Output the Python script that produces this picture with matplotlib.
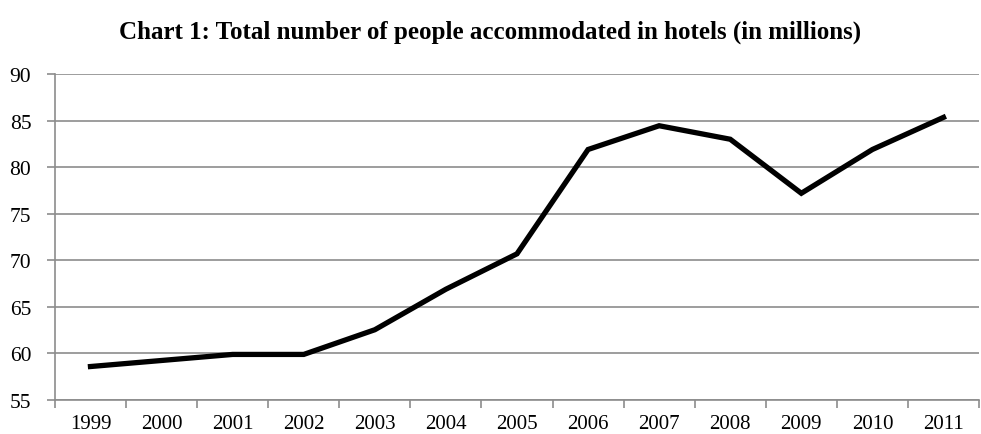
import numpy as np
import matplotlib.pyplot as plt

years = ['1999', '2000', '2001', '2002', '2003', '2004', '2005',
         '2006', '2007', '2008', '2009', '2010', '2011']
people = [58.6, 59.25, 59.9, 59.9, 62.55, 66.9, 70.7,
          81.9, 84.45, 83.0, 77.2, 81.9, 85.35]
y_ticks = [55, 60, 65, 70, 75, 80, 85, 90]

plt.rcParams['font.family'] = ['Liberation Serif', 'DejaVu Serif']

fig = plt.figure(figsize=(9.81, 4.35), dpi=100)
ax = fig.add_axes([0.056, 0.078, 0.942, 0.7495])

grid_c = '#8c8c8c'
x = np.arange(len(years))
ax.plot(x, people, color='black', linewidth=3.8, solid_joinstyle='miter', zorder=3)

ax.set_xlim(-0.5, len(years) - 0.5)
ax.set_ylim(55, 90)
ax.set_yticks(y_ticks)
ax.yaxis.grid(True, color=grid_c, linewidth=1.2)
ax.set_axisbelow(True)

# category axis: labels at centers, ticks at boundaries
ax.set_xticks(x)
ax.set_xticklabels(years)
ax.set_xticks(np.arange(-0.5, len(years), 1.0), minor=True)
ax.tick_params(axis='x', which='major', length=0, pad=10, labelsize=15)
ax.tick_params(axis='x', which='minor', length=6, width=1.2, color=grid_c)
ax.tick_params(axis='y', length=6, width=1.2, color=grid_c, pad=11, labelsize=15.5)

for s in ['top', 'right']:
    ax.spines[s].set_visible(False)
for s in ['left', 'bottom']:
    ax.spines[s].set_color(grid_c)
    ax.spines[s].set_linewidth(1.2)

fig.text(0.5, 0.926, 'Chart 1: Total number of people accommodated in hotels (in millions)',
         ha='center', va='center', fontsize=18, fontweight='bold')

plt.savefig('out.png', dpi=100)
